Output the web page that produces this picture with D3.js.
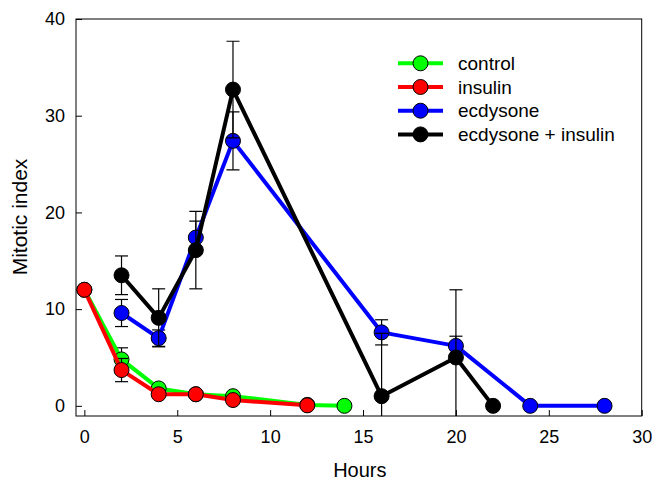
<!DOCTYPE html>
<html>
<head>
<meta charset="utf-8">
<script src="https://cdn.jsdelivr.net/npm/d3@7"></script>
<style>
  body { margin: 0; background: #fff; }
  text { font-family: "Liberation Sans", Arial, sans-serif; fill: #000; }
</style>
</head>
<body>
<svg width="652" height="481"></svg>
<script>
// Datos
const controlHours = [0, 2, 4, 6, 8, 12, 14];
const controlMean = [12, 4.8, 1.8, 1.2, 1.0, 0.1, 0];
const controlErr = [0, 1.2, 0.3, 0, 0, 0, 0];

const insulinHours = [0, 2, 4, 6, 8, 12];
const insulinMean = [12, 3.7, 1.2, 1.2, 0.6, 0.05];
const insulinErr = [0, 1.2, 0, 0, 0, 0];

const ecdysoneHours = [2, 4, 6, 8, 16, 20, 24, 28];
const ecdysoneMean = [9.6, 7.0, 17.4, 27.4, 7.6, 6.2, 0, 0];
const ecdysoneErr = [1.4, 0.85, 1.7, 3.0, 1.3, 1.0, 0, 0];

const ecdInsHours = [2, 4, 6, 8, 16, 20, 22];
const ecdInsMean = [13.5, 9.1, 16.1, 32.7, 1.0, 5.0, 0];
const ecdInsErr = [2.0, 3.0, 4.0, 5.0, 6.5, 7.0, 0];

const seriesNames = ['control', 'insulin', 'ecdysone', 'ecdysone + insulin'];
const seriesColors = ['#00ff00', '#ff0000', '#0000ff', '#000000'];
const xTicks = [0, 5, 10, 15, 20, 25, 30];
const yTicks = [0, 10, 20, 30, 40];

const series = [
  { hours: controlHours, mean: controlMean, err: controlErr },
  { hours: insulinHours, mean: insulinMean, err: insulinErr },
  { hours: ecdysoneHours, mean: ecdysoneMean, err: ecdysoneErr },
  { hours: ecdInsHours, mean: ecdInsMean, err: ecdInsErr }
];

const svg = d3.select('svg');
const plotLeft = 76, plotRight = 641.7, plotTop = 19, plotBottom = 416;

const x = d3.scaleLinear().domain([-0.45, 30]).range([plotLeft, plotRight]);
const y = d3.scaleLinear().domain([-1.05, 40]).range([plotBottom, plotTop]);

// Recorte del area de trazado
svg.append('clipPath').attr('id', 'plot')
  .append('rect')
  .attr('x', plotLeft).attr('y', plotTop)
  .attr('width', plotRight - plotLeft).attr('height', plotBottom - plotTop);

// Ejes con marcas hacia dentro
const xAxis = svg.append('g')
  .attr('transform', `translate(0,${plotBottom})`)
  .call(d3.axisBottom(x).tickValues(xTicks).tickSizeInner(-6).tickSizeOuter(0).tickPadding(14));
xAxis.select('.domain').remove();
xAxis.selectAll('text').style('font-size', '18px').style('font-family', '"Liberation Sans", Arial, sans-serif');

const yAxis = svg.append('g')
  .attr('transform', `translate(${plotLeft},0)`)
  .call(d3.axisLeft(y).tickValues(yTicks).tickSizeInner(-6).tickSizeOuter(0).tickPadding(11));
yAxis.select('.domain').remove();
yAxis.selectAll('text').style('font-size', '18px').style('font-family', '"Liberation Sans", Arial, sans-serif');

// Marco
svg.append('rect')
  .attr('x', plotLeft).attr('y', plotTop)
  .attr('width', plotRight - plotLeft).attr('height', plotBottom - plotTop)
  .attr('fill', 'none').attr('stroke', '#000').attr('stroke-width', 1);

// Titulos de los ejes
svg.append('text')
  .attr('x', (plotLeft + plotRight) / 2 + 1).attr('y', 477)
  .attr('text-anchor', 'middle')
  .style('font-size', '20px')
  .text('Hours');

svg.append('text')
  .attr('transform', 'translate(27,217) rotate(-90)')
  .attr('text-anchor', 'middle')
  .style('font-size', '21px')
  .text('Mitotic index');

const line = d3.line()
  .x(d => x(d.h))
  .y(d => y(d.m));

// Dibujar cada serie: barras de error, linea y marcadores
series.forEach((s, i) => {
  const pts = s.hours.map((h, j) => ({ h: h, m: s.mean[j], e: s.err[j] }));
  const g = svg.append('g');

  const eb = g.append('g').attr('clip-path', 'url(#plot)')
    .selectAll('g').data(pts.filter(d => d.e > 0)).join('g')
    .attr('stroke', '#000').attr('stroke-width', 1.2);
  eb.append('line')
    .attr('x1', d => x(d.h)).attr('x2', d => x(d.h))
    .attr('y1', d => y(d.m - d.e)).attr('y2', d => y(d.m + d.e));
  eb.append('line')
    .attr('x1', d => x(d.h) - 6.5).attr('x2', d => x(d.h) + 6.5)
    .attr('y1', d => y(d.m + d.e)).attr('y2', d => y(d.m + d.e));
  eb.append('line')
    .attr('x1', d => x(d.h) - 6.5).attr('x2', d => x(d.h) + 6.5)
    .attr('y1', d => y(d.m - d.e)).attr('y2', d => y(d.m - d.e));

  g.append('path')
    .datum(pts)
    .attr('d', line)
    .attr('fill', 'none')
    .attr('stroke', seriesColors[i])
    .attr('stroke-width', 4)
    .attr('stroke-linejoin', 'round');

  g.selectAll('circle').data(pts).join('circle')
    .attr('cx', d => x(d.h)).attr('cy', d => y(d.m))
    .attr('r', 7.5)
    .attr('fill', seriesColors[i])
    .attr('stroke', '#000').attr('stroke-width', 1);
});

// Leyenda
const legend = svg.append('g');
seriesNames.forEach((name, i) => {
  const cy = 63.3 + i * 23.7;
  legend.append('line')
    .attr('x1', 398).attr('x2', 443).attr('y1', cy).attr('y2', cy)
    .attr('stroke', seriesColors[i]).attr('stroke-width', 4);
  legend.append('circle')
    .attr('cx', 420.5).attr('cy', cy).attr('r', 7.5)
    .attr('fill', seriesColors[i]).attr('stroke', '#000').attr('stroke-width', 1);
  legend.append('text')
    .attr('x', 458).attr('y', cy + 6.7)
    .style('font-size', '19px')
    .text(name);
});
</script>
</body>
</html>
